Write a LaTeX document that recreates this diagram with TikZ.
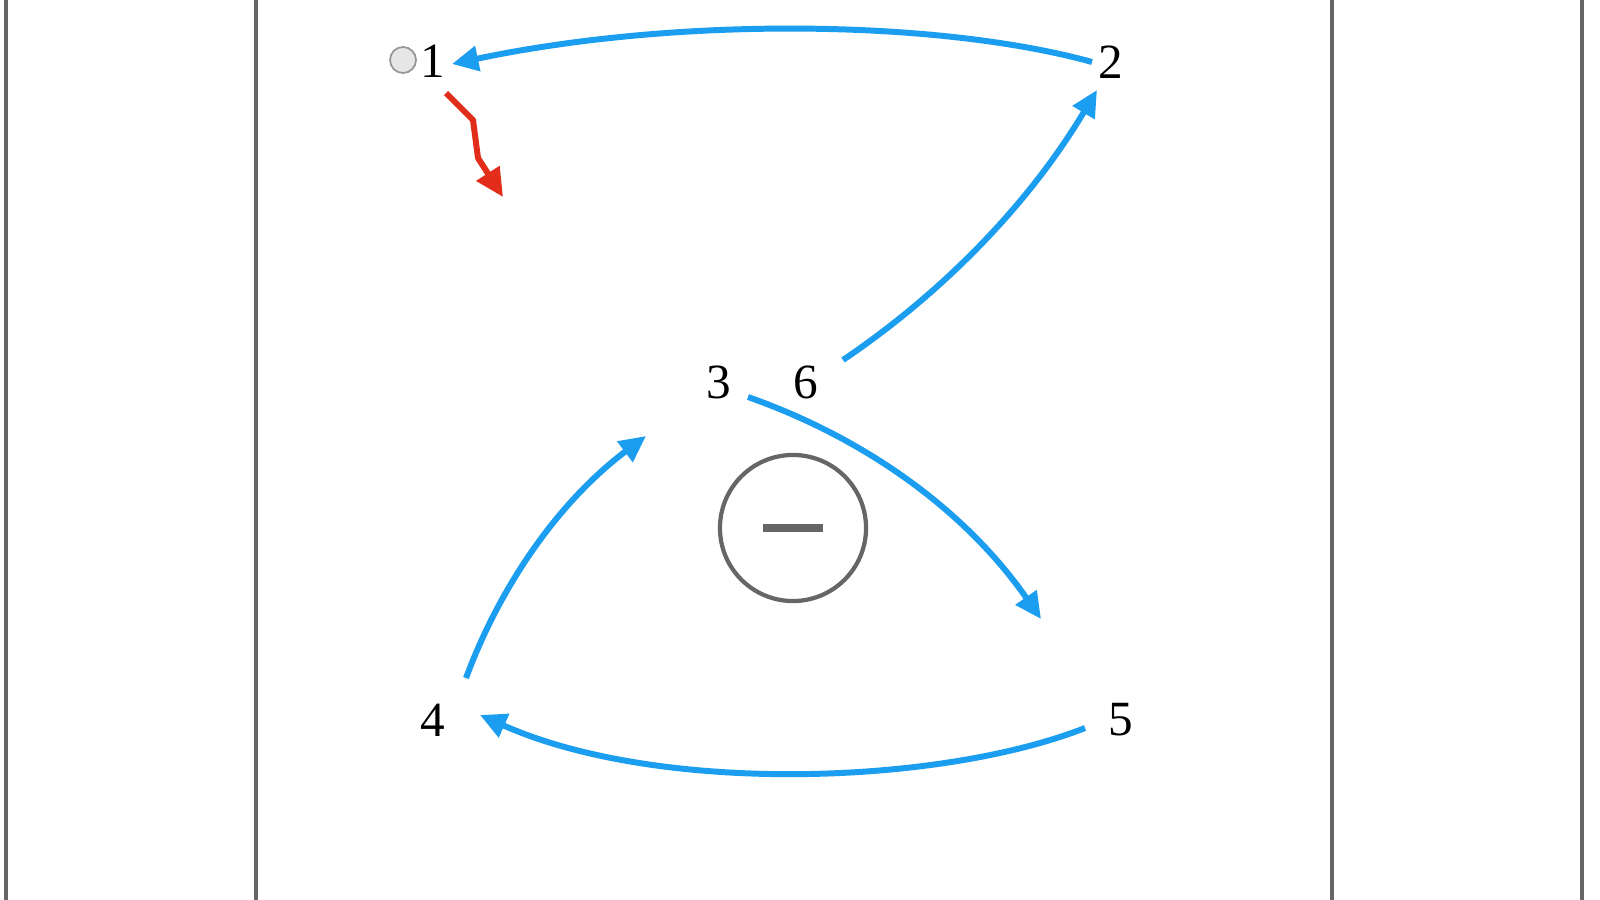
\documentclass[tikz,border=0pt]{standalone}
\usepackage{fontspec}
\setmainfont{Liberation Serif}
\usetikzlibrary{arrows.meta}
\definecolor{fblue}{RGB}{27,157,240}
\definecolor{fred}{RGB}{226,45,26}
\definecolor{fgray}{RGB}{102,102,102}
\definecolor{ballfill}{RGB}{230,230,230}
\definecolor{ballline}{RGB}{150,150,150}
\begin{document}
\begin{tikzpicture}[x=0.01cm,y=-0.01cm,
  lbl/.style={font=\fontsize{14pt}{16pt}\selectfont, inner sep=0pt, text=black},
  court/.style={draw=fgray, line width=1.1pt},
  flow/.style={draw=fblue, line width=1.7pt, -{Triangle[length=7.5pt,width=7pt]}},
  redflow/.style={draw=fred, line width=1.7pt, line join=round, -{Triangle[length=8pt,width=7.5pt]}},
  ballstyle/.style={circle, fill=ballfill, draw=ballline, line width=0.5pt, minimum size=0.26cm, inner sep=0pt},
  ringstyle/.style={circle, draw=fgray, line width=1.2pt, minimum size=1.46cm, inner sep=0pt},
  barstyle/.style={fill=fgray, minimum width=0.6cm, minimum height=0.075cm, inner sep=0pt}]
\fill[white] (0,0) rectangle (1600,900);
\useasboundingbox (0,0) rectangle (1600,900);

% court lines
\draw[court] (6,0) -- (6,900);
\draw[court] (256,0) -- (256,900);
\draw[court] (1332,0) -- (1332,900);
\draw[court] (1582,0) -- (1582,900);

% labels
\node[ballstyle] (ball) at (403,60) {};
\node[lbl] (n1) at (433,61) {1};
\node[lbl] (n2) at (1111,62) {2};
\node[lbl] (n3) at (719,382) {3};
\node[lbl] (n6) at (806,382) {6};
\node[lbl] (n4) at (433,720) {4};
\node[lbl] (n5) at (1121,720) {5};

% minus symbol
\node[ringstyle] (ring) at (793,528) {};
\node[barstyle] (bar) at (ring.center) {};

% connector end points
\coordinate (s21) at (1092,62);
\coordinate (e21) at (452,64);
\coordinate (s62) at (843,360);
\coordinate (e62) at (1097,90);
\coordinate (s35) at (748,397);
\coordinate (e35) at (1041,619);
\coordinate (s54) at (1085,728);
\coordinate (e54) at (480,715);
\coordinate (s43) at (466,678);
\coordinate (e43) at (646,436);
\coordinate (r0) at (446,93);
\coordinate (r1) at (473,120);
\coordinate (r2) at (478,158);
\coordinate (r3) at (503,197);

% passes
\draw[flow] (s21) .. controls (940,20) and (680,16) .. (e21);
\draw[flow] (s62) .. controls (948,289) and (1032,199) .. (e62);
\draw[flow] (s35) .. controls (870,440) and (968,514) .. (e35);
\draw[flow] (s54) .. controls (940,785) and (660,795) .. (e54);
\draw[flow] (s43) .. controls (502,581) and (562,499) .. (e43);

% dribble
\draw[redflow] (r0) -- (r1) -- (r2) -- (r3);
\end{tikzpicture}
\end{document}
